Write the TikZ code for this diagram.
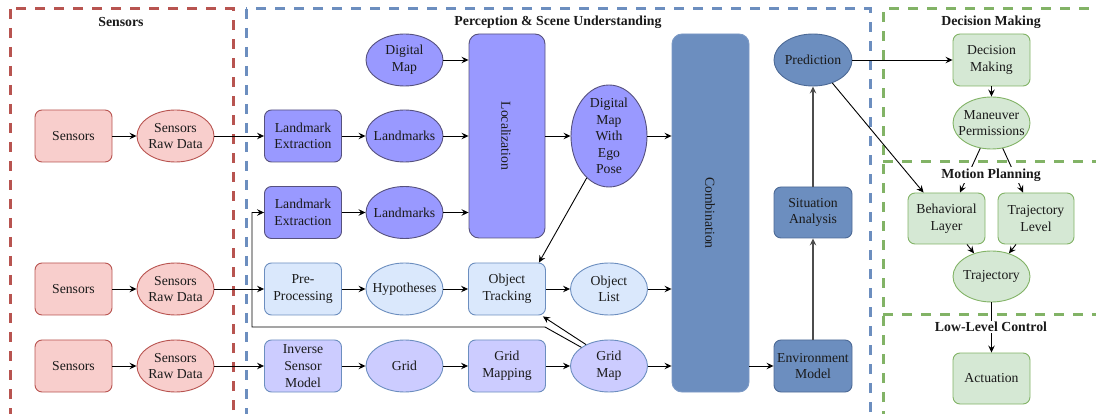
\documentclass[tikz,border=0pt]{standalone}
\usepackage{fontspec}
\setmainfont{Liberation Serif}
\usetikzlibrary{shapes.geometric,arrows.meta,calc}
\definecolor{redF}{HTML}{F8CECC}\definecolor{redD}{HTML}{B85450}
\definecolor{purF}{HTML}{9999FF}\definecolor{purD}{HTML}{56517E}
\definecolor{lbF}{HTML}{DAE8FC}\definecolor{lbD}{HTML}{6C8EBF}
\definecolor{lavF}{HTML}{CCCCFF}
\definecolor{dbF}{HTML}{6C8EBF}\definecolor{dbD}{HTML}{4D6A96}
\definecolor{grF}{HTML}{D5E8D4}\definecolor{grD}{HTML}{82B366}
\definecolor{txt}{HTML}{1A1A1A}
\tikzset{
  base/.style={font=\fontsize{13.7}{16.6}\selectfont, align=center, line width=0.9pt, inner sep=1pt, text=txt},
  box/.style={base, rectangle, rounded corners=7pt, minimum width=77pt, minimum height=52pt},
  ell/.style={base, ellipse, minimum width=77pt, minimum height=52pt, inner xsep=-10pt, inner ysep=-6pt},
  sens/.style={fill=redF, draw=redD},
  pur/.style={fill=purF, draw=purD},
  lblue/.style={fill=lbF, draw=lbD},
  lav/.style={fill=lavF, draw=lbD},
  dblue/.style={fill=dbF, draw=dbD},
  grn/.style={fill=grF, draw=grD},
  arr/.style={-{Stealth[length=7pt,width=6.5pt,inset=2.5pt]}, line width=0.9pt, draw=black},
  garr/.style={-{Stealth[length=7pt,width=6.5pt,inset=2.5pt]}, line width=1.4pt, draw=black!70},
  zone/.style={line width=3pt, dash pattern=on 10pt off 9pt},
  ztitle/.style={font=\bfseries\fontsize{13.8}{16}\selectfont, fill=white, inner sep=1.5pt, text=txt},
}
\begin{document}
\begin{tikzpicture}[x=1pt,y=-1pt]
\useasboundingbox (0,0) rectangle (1096,414);
\clip (0,0) rectangle (1096,414);
% zones
\draw[zone, draw=redD] (10,9) rectangle (233,440);
\draw[zone, draw=lbD] (246,9) rectangle (870,440);
\draw[zone, draw=grD] (883,440) -- (883,9) -- (1110,9);
\draw[zone, draw=grD] (883,162) -- (1110,162);
\draw[zone, draw=grD] (883,315) -- (1110,315);

% sensors column
\node[box, sens] (s1) at (73.5,136) {Sensors};
\node[ell, sens] (r1) at (175.5,136) {Sensors\\Raw Data};
\node[box, sens] (s3) at (73.5,289) {Sensors};
\node[ell, sens] (r3) at (175.5,289) {Sensors\\Raw Data};
\node[box, sens] (s4) at (73.5,366) {Sensors};
\node[ell, sens] (r4) at (175.5,366) {Sensors\\Raw Data};

% perception
\node[box, pur] (le1) at (303,136) {Landmark\\Extraction};
\node[ell, pur] (lm1) at (404.5,136) {Landmarks};
\node[ell, pur] (dm) at (404.5,60) {Digital\\Map};
\node[box, pur] (le2) at (303,212.5) {Landmark\\Extraction};
\node[ell, pur] (lm2) at (404.5,212.5) {Landmarks};
\node[box, pur, rounded corners=10pt, minimum width=76pt, minimum height=204pt] (loc) at (507,136) {};
\node[base, rotate=-90] (loct) at (506,136) {Localization};
\node[ell, pur, minimum width=76pt, minimum height=102pt] (dmw) at (609,136) {Digital\\Map\\With\\Ego\\Pose};

\node[box, lblue] (pp) at (303,289) {Pre-\\Processing};
\node[ell, lblue] (hyp) at (404.5,289) {Hypotheses};
\node[box, lblue] (ot) at (507,289) {Object\\Tracking};
\node[ell, lblue] (ol) at (609,289) {Object\\List};

\node[box, lav] (ism) at (303,366) {Inverse\\Sensor\\Model};
\node[ell, lav] (grid) at (404.5,366) {Grid};
\node[box, lav] (gm) at (507,366) {Grid\\Mapping};
\node[ell, lav] (gmap) at (609,366) {Grid\\Map};

\node[box, dblue, draw=lbD!90, rounded corners=10pt, minimum width=77pt, minimum height=358pt] (comb) at (710.5,213) {};
\node[base, rotate=-90] (combt) at (710,213) {Combination};
\node[ell, dblue, minimum width=78pt] (pred) at (813,60) {Prediction};
\node[box, dblue, minimum width=78pt, minimum height=51pt] (sit) at (813,212.5) {Situation\\Analysis};
\node[box, dblue, minimum width=78pt] (env) at (813,366) {Environment\\Model};

% right side
\node[box, grn] (dec) at (991.5,60) {Decision\\Making};
\node[ell, grn] (man) at (991.5,123) {Maneuver\\Permissions};
\node[box, grn, minimum height=51pt] (bl) at (946.5,218.5) {Behavioral\\Layer};
\node[box, grn, minimum width=76pt, minimum height=51pt] (tl) at (1036,218.5) {Trajectory\\Level};
\node[ell, grn, minimum height=51pt] (traj) at (991.5,276.5) {Trajectory};
\node[box, grn, minimum height=51pt] (act) at (991.5,378.5) {Actuation};

% connectors
\draw[arr] (s1) -- (r1);
\draw[arr] (r1) -- (le1);
\draw[arr] (le1) -- (lm1);
\draw[arr] (lm1) -- (lm1 -| loc.west);
\draw[arr] (dm) -- (dm -| loc.west);
\draw[arr] (le2) -- (lm2);
\draw[arr] (lm2) -- (lm2 -| loc.west);
\draw[arr] (loc.east |- dmw) -- (dmw);
\draw[arr] (dmw) -- (dmw -| comb.west);
\draw[arr] (s3) -- (r3);
\draw[arr] (r3) -- (pp);
\draw[arr] (pp) -- (hyp);
\draw[arr] (hyp) -- (ot);
\draw[arr] (ot) -- (ol);
\draw[arr] (ol) -- (ol -| comb.west);
\draw[arr] (s4) -- (r4);
\draw[arr] (r4) -- (ism);
\draw[arr] (ism) -- (grid);
\draw[arr] (grid) -- (gm);
\draw[arr] (gm) -- (gmap);
\draw[arr] (gmap) -- (gmap -| comb.west);
\coordinate (j1) at (545,327);
\coordinate (j2) at (252,327);
\draw[arr] (gmap.146) -- (j1) -- (j2) |- (le2.west);
\draw[arr] (gmap.137) -- ($(ot.south east)+(-3,1)$);
\draw[arr] (dmw.242) -- ($(ot.north east)+(-7,0)$);
\draw[arr] (env -| comb.east) -- (env);
\draw[garr] (env) -- (sit);
\draw[garr] (sit) -- (pred);
\draw[arr] (pred) -- (dec);
\draw[arr] (pred.310) -- ($(bl.north west)+(16,0)$);
\draw[arr] (dec) -- (man);
\draw[arr] (man.246) -- ($(bl.north)+(13.5,0)$);
\draw[arr] (man.294) -- ($(tl.north)+(-13,0)$);
\draw[arr] ($(bl.south)+(20.5,0)$) -- (traj.127);
\draw[arr] ($(tl.south)+(-20,0)$) -- (traj.53);
\draw[arr] (traj) -- (act);

% zone titles
\node[ztitle] (t1) at (121,22) {Sensors};
\node[ztitle] (t2) at (558,22) {Perception \& Scene Understanding};
\node[ztitle] (t3) at (991,22) {Decision Making};
\node[ztitle] (t4) at (991,175) {Motion Planning};
\node[ztitle] (t5) at (991,327) {Low-Level Control};
\end{tikzpicture}
\end{document}
